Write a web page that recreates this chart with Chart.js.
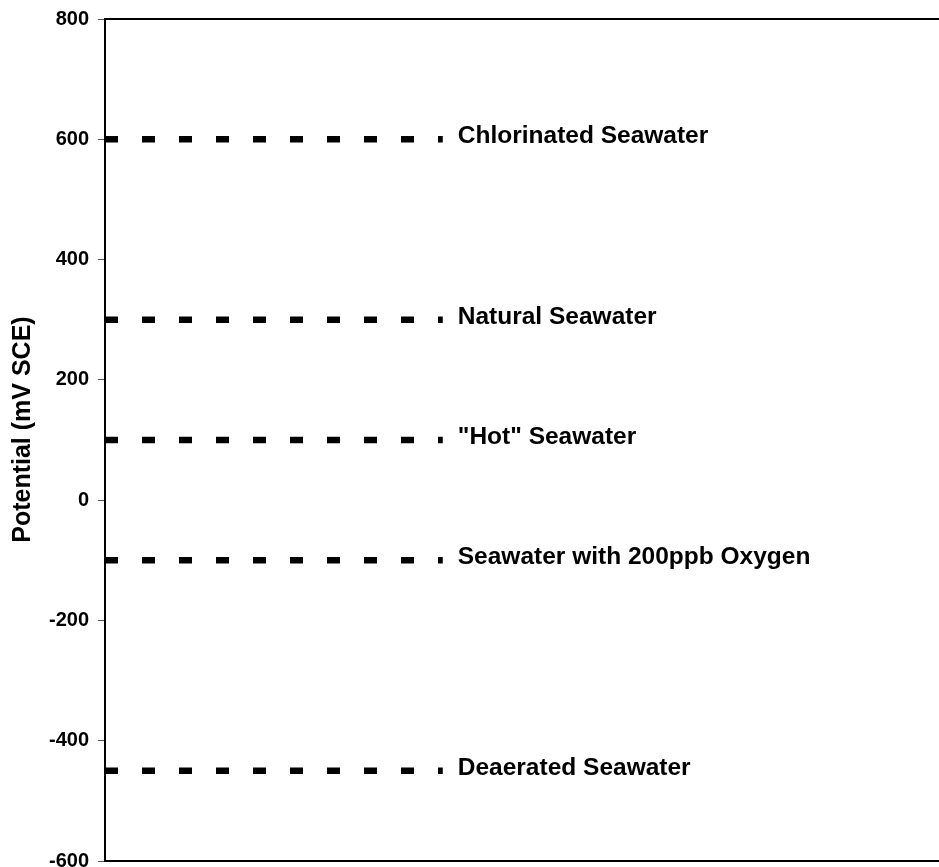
<!DOCTYPE html>
<html>
<head>
<meta charset="utf-8">
<script src="https://cdn.jsdelivr.net/npm/chart.js@4/dist/chart.umd.min.js"></script>
<style>
  html, body { margin: 0; padding: 0; background: #fff; }
  #wrap { width: 939px; height: 867px; }
</style>
</head>
<body>
<div id="wrap"><canvas id="chart"></canvas></div>
<script>
const levelNames  = ['Chlorinated Seawater', 'Natural Seawater', '"Hot" Seawater', 'Seawater with 200ppb Oxygen', 'Deaerated Seawater'];
const levelValues = [600, 300, 100, -100, -450];
const lineStart = 0;
const lineEnd   = 40.5;
const yTicks    = [-600, -400, -200, 0, 200, 400, 600, 800];

const FONT = '"Liberation Sans", Arial, Helvetica, sans-serif';

const labelPlugin = {
  id: 'levelLabels',
  afterDatasetsDraw(chart) {
    const ctx = chart.ctx;
    ctx.save();
    ctx.font = 'bold 24.5px ' + FONT;
    ctx.fillStyle = '#000';
    ctx.textAlign = 'left';
    ctx.textBaseline = 'alphabetic';
    chart.data.datasets.forEach((ds, i) => {
      const pts = chart.getDatasetMeta(i).data;
      const p = pts[pts.length - 1];
      ctx.fillText(ds.label, p.x + 15, p.y + 4);
    });
    ctx.restore();
  }
};

const datasets = levelNames.map((name, i) => ({
  label: name,
  data: [{ x: lineStart, y: levelValues[i] }, { x: lineEnd, y: levelValues[i] }],
  borderColor: '#000',
  borderWidth: 6.5,
  borderDash: [13, 24],
  borderCapStyle: 'butt',
  pointRadius: 0,
  fill: false,
  tension: 0
}));

new Chart(document.getElementById('chart'), {
  type: 'line',
  data: { datasets },
  options: {
    responsive: true,
    maintainAspectRatio: false,
    animation: false,
    layout: { padding: { top: 19, right: 0, bottom: 6, left: 0 } },
    plugins: { legend: { display: false }, tooltip: { enabled: false } },
    scales: {
      x: {
        type: 'linear',
        position: 'bottom',
        min: 0,
        max: 100,
        grid: { display: false, drawTicks: false },
        ticks: { display: false },
        border: { display: true, color: '#000', width: 2 }
      },
      xTop: {
        type: 'linear',
        position: 'top',
        min: 0,
        max: 100,
        grid: { display: false, drawTicks: false },
        ticks: { display: false },
        border: { display: true, color: '#000', width: 2 }
      },
      y: {
        min: -600,
        max: 800,
        afterFit: s => {
          s.width = 105;
          s.paddingTop = 0;
          s.paddingBottom = 0;
        },
        afterBuildTicks: s => { s.ticks = yTicks.map(v => ({ value: v })); },
        grid: { display: true, drawOnChartArea: false, drawTicks: true, tickLength: 7, tickColor: '#555', tickWidth: 1 },
        border: { display: true, color: '#000', width: 2 },
        ticks: {
          color: '#000',
          padding: 9,
          font: { family: FONT, size: 20, weight: 'bold' }
        },
        title: {
          display: true,
          // leading spaces nudge the rotated title up a bit, like the original
          text: '   Potential (mV SCE)',
          color: '#000',
          padding: { top: 8, bottom: 0 },
          font: { family: FONT, size: 25, weight: 'bold' }
        }
      }
    }
  },
  plugins: [labelPlugin]
});
</script>
</body>
</html>
